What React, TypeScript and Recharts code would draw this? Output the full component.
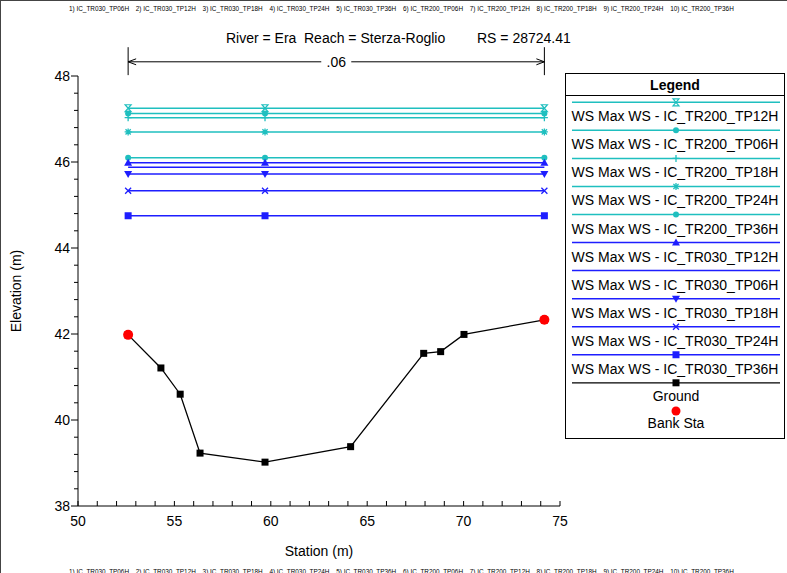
import React from 'react';
import { ComposedChart, Line, XAxis, YAxis, Legend, ReferenceLine, Label } from 'recharts';

const FONT = '"Liberation Sans", Arial, sans-serif';
const CYAN = '#1FBFBF';
const BLUE = '#1E1EFF';

// plan list printed above and below the plot
const planNames = [
  'IC_TR030_TP06H', 'IC_TR030_TP12H', 'IC_TR030_TP18H', 'IC_TR030_TP24H', 'IC_TR030_TP36H',
  'IC_TR200_TP06H', 'IC_TR200_TP12H', 'IC_TR200_TP18H', 'IC_TR200_TP24H', 'IC_TR200_TP36H',
];

// water surface profiles (legend order)
const wsNames = [
  'WS Max WS - IC_TR200_TP12H',
  'WS Max WS - IC_TR200_TP06H',
  'WS Max WS - IC_TR200_TP18H',
  'WS Max WS - IC_TR200_TP24H',
  'WS Max WS - IC_TR200_TP36H',
  'WS Max WS - IC_TR030_TP12H',
  'WS Max WS - IC_TR030_TP06H',
  'WS Max WS - IC_TR030_TP18H',
  'WS Max WS - IC_TR030_TP24H',
  'WS Max WS - IC_TR030_TP36H',
];
const wsLevels = [47.25, 47.13, 47.03, 46.7, 46.1, 45.98, 45.88, 45.72, 45.33, 44.75];
const wsMarkers = ['hourglass', 'circle', 'plus', 'star', 'circle', 'triUp', 'none', 'triDown', 'cross', 'square'];
const wsColors = [CYAN, CYAN, CYAN, CYAN, CYAN, BLUE, BLUE, BLUE, BLUE, BLUE];
const wsStations = [52.6, 59.7, 74.19];

// ground profile
const groundStation = [52.6, 54.3, 55.3, 56.33, 59.7, 64.14, 67.93, 68.81, 70.02, 74.19];
const groundElevation = [41.98, 41.21, 40.6, 39.23, 39.02, 39.38, 41.55, 41.59, 41.99, 42.33];

// bank stations
const bankStation = [52.6, 74.19];
const bankElevation = [41.98, 42.33];
const manningN = '.06';

const xTicks = Array.from({ length: 26 }, (_, i) => 50 + i);
const yTicks = Array.from({ length: 26 }, (_, i) => Math.round((38 + i * 0.4) * 10) / 10);

const wsData = wsLevels.map((lvl) => wsStations.map((x) => ({ x, y: lvl })));
const groundData = groundStation.map((x, i) => ({ x, y: groundElevation[i] }));
const bankData = bankStation.map((x, i) => ({ x, y: bankElevation[i] }));

const Marker = ({ kind, cx, cy, color }: { kind: string; cx: number; cy: number; color: string }) => {
  switch (kind) {
    case 'hourglass':
      return <path d={`M${cx - 3},${cy - 3.5}H${cx + 3}L${cx - 3},${cy + 3.5}H${cx + 3}Z`} fill="none" stroke={color} strokeWidth={1.2} />;
    case 'circle':
      return <circle cx={cx} cy={cy} r={3} fill={color} />;
    case 'plus':
      return <path d={`M${cx - 3.5},${cy}H${cx + 3.5}M${cx},${cy - 3.5}V${cy + 3.5}`} stroke={color} strokeWidth={1.3} />;
    case 'star':
      return (
        <path
          d={`M${cx - 3.5},${cy}H${cx + 3.5}M${cx},${cy - 3.5}V${cy + 3.5}M${cx - 2.6},${cy - 2.6}L${cx + 2.6},${cy + 2.6}M${cx - 2.6},${cy + 2.6}L${cx + 2.6},${cy - 2.6}`}
          stroke={color}
          strokeWidth={1.3}
        />
      );
    case 'triUp':
      return <path d={`M${cx},${cy - 4}L${cx + 4},${cy + 3}H${cx - 4}Z`} fill={color} />;
    case 'triDown':
      return <path d={`M${cx},${cy + 4}L${cx + 4},${cy - 3}H${cx - 4}Z`} fill={color} />;
    case 'cross':
      return <path d={`M${cx - 3},${cy - 3}L${cx + 3},${cy + 3}M${cx - 3},${cy + 3}L${cx + 3},${cy - 3}`} stroke={color} strokeWidth={1.3} />;
    case 'square':
      return <rect x={cx - 3.5} y={cy - 3.5} width={7} height={7} fill={color} />;
    case 'bank':
      return <circle cx={cx} cy={cy} r={5} fill="#FF0000" />;
    default:
      return null;
  }
};

const dotFor = (kind: string, color: string) => (p: any) => (
  <g key={`d-${kind}-${p.index}`}>
    <Marker kind={kind} cx={p.cx} cy={p.cy} color={color} />
  </g>
);

const XTick = (p: any) => {
  const v = p.payload.value;
  return (
    <g>
      <line x1={p.x} x2={p.x} y1={p.y} y2={p.y - 5} stroke="#000" />
      {v % 5 === 0 && (
        <text x={p.x} y={p.y + 15} textAnchor="middle" dominantBaseline="central" fontSize={14} fontFamily={FONT} fill="#000">
          {v}
        </text>
      )}
    </g>
  );
};

const YTick = (p: any) => {
  const v = p.payload.value;
  const major = Number.isInteger(v) && v % 2 === 0;
  return (
    <g>
      <line x1={p.x - (major ? 7 : 4)} x2={p.x} y1={p.y} y2={p.y} stroke="#000" />
      {major && (
        <text x={p.x - 8} y={p.y} textAnchor="end" dominantBaseline="central" fontSize={14} fontFamily={FONT} fill="#000">
          {v}
        </text>
      )}
    </g>
  );
};

const NArrow = (p: any) => {
  const { x1, x2, y1 } = p;
  const mid = (x1 + x2) / 2;
  return (
    <g stroke="#000" fill="none">
      <line x1={x1} x2={mid - 15} y1={y1} y2={y1} />
      <line x1={mid + 15} x2={x2} y1={y1} y2={y1} />
      <path d={`M${x1 + 8},${y1 - 3}L${x1},${y1}L${x1 + 8},${y1 + 3}`} />
      <path d={`M${x2 - 8},${y1 - 3}L${x2},${y1}L${x2 - 8},${y1 + 3}`} />
      <text x={mid} y={y1} textAnchor="middle" dominantBaseline="central" fontSize={14} fontFamily={FONT} fill="#000" stroke="none">
        {manningN}
      </text>
    </g>
  );
};

const LegendBox = () => {
  const rowY = (i: number) => 29.3 + i * 28.05;
  return (
    <svg width={220} height={366} style={{ display: 'block', fontFamily: FONT }}>
      <rect x={0.5} y={0.5} width={219} height={365} fill="#fff" stroke="#000" />
      <text x={110} y={11.5} textAnchor="middle" dominantBaseline="central" fontSize={14} fontWeight="bold">Legend</text>
      <line x1={0} x2={220} y1={22.5} y2={22.5} stroke="#000" />
      {wsNames.map((name, i) => (
        <g key={name}>
          <line x1={7} x2={215} y1={rowY(i)} y2={rowY(i)} stroke={wsColors[i]} strokeWidth={1.5} />
          <Marker kind={wsMarkers[i]} cx={111} cy={rowY(i)} color={wsColors[i]} />
          <text x={110} y={rowY(i) + 14} textAnchor="middle" dominantBaseline="central" fontSize={14}>{name}</text>
        </g>
      ))}
      <line x1={7} x2={215} y1={rowY(10)} y2={rowY(10)} stroke="#000" strokeWidth={1.3} />
      <rect x={107.5} y={rowY(10) - 3.5} width={7} height={7} fill="#000" />
      <text x={111} y={rowY(10) + 13} textAnchor="middle" dominantBaseline="central" fontSize={14}>Ground</text>
      <circle cx={111} cy={338} r={4.5} fill="#FF0000" />
      <text x={111} y={350} textAnchor="middle" dominantBaseline="central" fontSize={14}>Bank Sta</text>
    </svg>
  );
};

const planRow = (top: number) => (
  <div style={{ position: 'absolute', left: 0, top, width: 787, height: 10, fontSize: 6.4, fontFamily: FONT, color: '#000', whiteSpace: 'nowrap' }}>
    {planNames.map((n, i) => (
      <span key={n} style={{ position: 'absolute', left: 68 + i * 66.8, top: 0, lineHeight: '10px' }}>
        {`${i + 1}) ${n}`}
      </span>
    ))}
  </div>
);

export default function App() {
  return (
    <div
      style={{
        position: 'absolute', left: 0, top: 0, width: 786, height: 572, background: '#fff',
        borderLeft: '1px solid #444', borderTop: '1px solid #444', overflow: 'hidden', fontFamily: FONT,
      }}
    >
      {planRow(3)}
      <div style={{ position: 'absolute', top: 28, left: 0, width: 787, height: 18, fontSize: 14, lineHeight: '18px' }}>
        <span style={{ position: 'absolute', left: 225 }}>River = Era</span>
        <span style={{ position: 'absolute', left: 303 }}>Reach = Sterza-Roglio</span>
        <span style={{ position: 'absolute', left: 476 }}>RS = 28724.41</span>
      </div>
      <div style={{ position: 'absolute', left: -1, top: -1 }}>
        <ComposedChart width={787} height={573} margin={{ top: 76, right: 227, bottom: 17, left: 8 }}>
          <XAxis
            type="number"
            dataKey="x"
            domain={[50, 75]}
            ticks={xTicks}
            interval={0}
            allowDataOverflow
            height={50}
            tickSize={0}
            tickMargin={0}
            tickLine={false}
            tick={<XTick />}
            axisLine={{ stroke: '#000' }}
          >
            <Label value="Station (m)" position="insideBottom" offset={0} fontSize={14} fontFamily={FONT} fill="#000" />
          </XAxis>
          <YAxis
            type="number"
            domain={[38, 48]}
            ticks={yTicks}
            interval={0}
            allowDataOverflow
            width={70}
            tickSize={0}
            tickMargin={0}
            tickLine={false}
            tick={<YTick />}
            axisLine={{ stroke: '#000' }}
          >
            <Label value="Elevation (m)" position="insideLeft" angle={-90} offset={8} fontSize={14} fontFamily={FONT} fill="#000" style={{ textAnchor: 'middle' }} />
          </YAxis>
          <Legend
            layout="vertical"
            align="center"
            verticalAlign="middle"
            content={<LegendBox />}
            wrapperStyle={{ left: 565, top: 73, width: 220, height: 366 }}
          />
          {bankStation.map((s) => (
            <ReferenceLine key={`b-${s}`} segment={[{ x: s, y: 48.02 }, { x: s, y: 48.67 }]} ifOverflow="visible" stroke="#000" />
          ))}
          <ReferenceLine
            segment={[{ x: bankStation[0], y: 48.33 }, { x: bankStation[1], y: 48.33 }]}
            ifOverflow="visible"
            stroke="#000"
            shape={<NArrow />}
          />
          {wsData.map((d, i) => (
            <Line
              key={wsNames[i]}
              data={d}
              dataKey="y"
              name={wsNames[i]}
              stroke={wsColors[i]}
              strokeWidth={1.5}
              dot={dotFor(wsMarkers[i], wsColors[i])}
              activeDot={false}
              legendType="none"
              isAnimationActive={false}
            />
          ))}
          <Line
            data={groundData}
            dataKey="y"
            name="Ground"
            stroke="#000"
            strokeWidth={1.3}
            dot={dotFor('square', '#000')}
            activeDot={false}
            legendType="none"
            isAnimationActive={false}
          />
          <Line
            data={bankData}
            dataKey="y"
            name="Bank Sta"
            stroke="none"
            dot={dotFor('bank', '#FF0000')}
            activeDot={false}
            legendType="none"
            isAnimationActive={false}
          />
        </ComposedChart>
      </div>
      {planRow(566)}
    </div>
  );
}
